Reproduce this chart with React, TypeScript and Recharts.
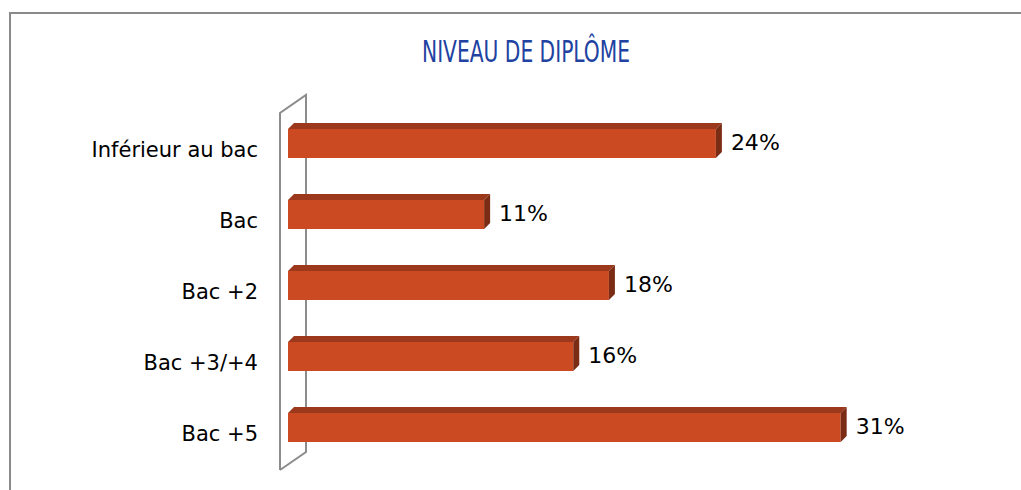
import { Bar, BarChart, Customized, LabelList, XAxis, YAxis, usePlotArea } from "recharts";

const categories = ["Inférieur au bac", "Bac", "Bac +2", "Bac +3/+4", "Bac +5"];
const shares = [24, 11, 18, 16, 31];

const data = categories.map((c, i) => ({ niveau: c, part: shares[i] }));

const DEPTH = 6;
const FONT = "'DejaVu Sans', sans-serif";

function Bar3D(props: any) {
  const { x, y, width, height } = props;
  if (!width || width <= 0) return null;
  const d = DEPTH;
  return (
    <g>
      <rect x={x} y={y} width={width} height={height} fill="#CB4A22" />
      <polygon
        points={`${x},${y} ${x + d},${y - d} ${x + width + d},${y - d} ${x + width},${y}`}
        fill="#9C391C"
      />
      <polygon
        points={`${x + width},${y} ${x + width + d},${y - d} ${x + width + d},${y + height - d} ${x + width},${y + height}`}
        fill="#7B2C15"
      />
    </g>
  );
}

function Wall() {
  const area = usePlotArea();
  const px = area ? area.x : 288;
  const py = area ? area.y : 108;
  const ph = area ? area.height : 355;
  const l = px - 8;
  const r = px + 18;
  const top = py;
  const bot = py + ph;
  return (
    <g>
      <polyline
        points={`${l},${bot + 7} ${l},${top + 5} ${r},${top - 13} ${r},${bot - 11} ${l},${bot + 7}`}
        fill="none"
        stroke="#8C8C8C"
        strokeWidth={2}
      />
      <text
        x={526}
        y={62}
        textAnchor="middle"
        fontFamily="'Liberation Sans Narrow', 'DejaVu Sans Condensed', sans-serif"
        fontSize={30}
        fill="#2142A0"
        textLength={208}
        lengthAdjust="spacingAndGlyphs"
      >
        NIVEAU DE DIPLÔME
      </text>
    </g>
  );
}

function CatTick(props: any) {
  const { x, y, payload } = props;
  return (
    <text x={x} y={y + 6} textAnchor="end" dominantBaseline="central" fontSize={21} fontFamily={FONT} fill="#000">
      {payload.value}
    </text>
  );
}

function PctLabel(props: any) {
  const { x, y, width, height, value } = props;
  return (
    <text
      x={x + width + 15}
      y={y + height / 2 - 1}
      dominantBaseline="central"
      fontSize={22}
      fontFamily={FONT}
      fill="#000"
    >
      {value}%
    </text>
  );
}

export default function App() {
  return (
    <div style={{ position: "absolute", left: 0, top: 0, width: 1021, height: 490, background: "#fff" }}>
      <div
        style={{
          position: "absolute",
          left: 9,
          top: 12,
          right: 0,
          bottom: 0,
          borderTop: "2px solid #8A8A8A",
          borderLeft: "2px solid #8A8A8A",
        }}
      />
      <div style={{ position: "absolute", left: 0, top: 0 }}>
        <BarChart
          width={1021}
          height={490}
          data={data}
          layout="vertical"
          margin={{ top: 108, right: 109, bottom: 27, left: 0 }}
          barSize={29}
        >
          <Customized component={Wall} />
          <XAxis type="number" domain={[0, 35]} hide />
          <YAxis
            type="category"
            dataKey="niveau"
            width={288}
            axisLine={false}
            tickLine={false}
            tickSize={0}
            tickMargin={30}
            tick={<CatTick />}
          />
          <Bar dataKey="part" shape={<Bar3D />} isAnimationActive={false}>
            <LabelList dataKey="part" content={<PctLabel />} />
          </Bar>
        </BarChart>
      </div>
    </div>
  );
}
